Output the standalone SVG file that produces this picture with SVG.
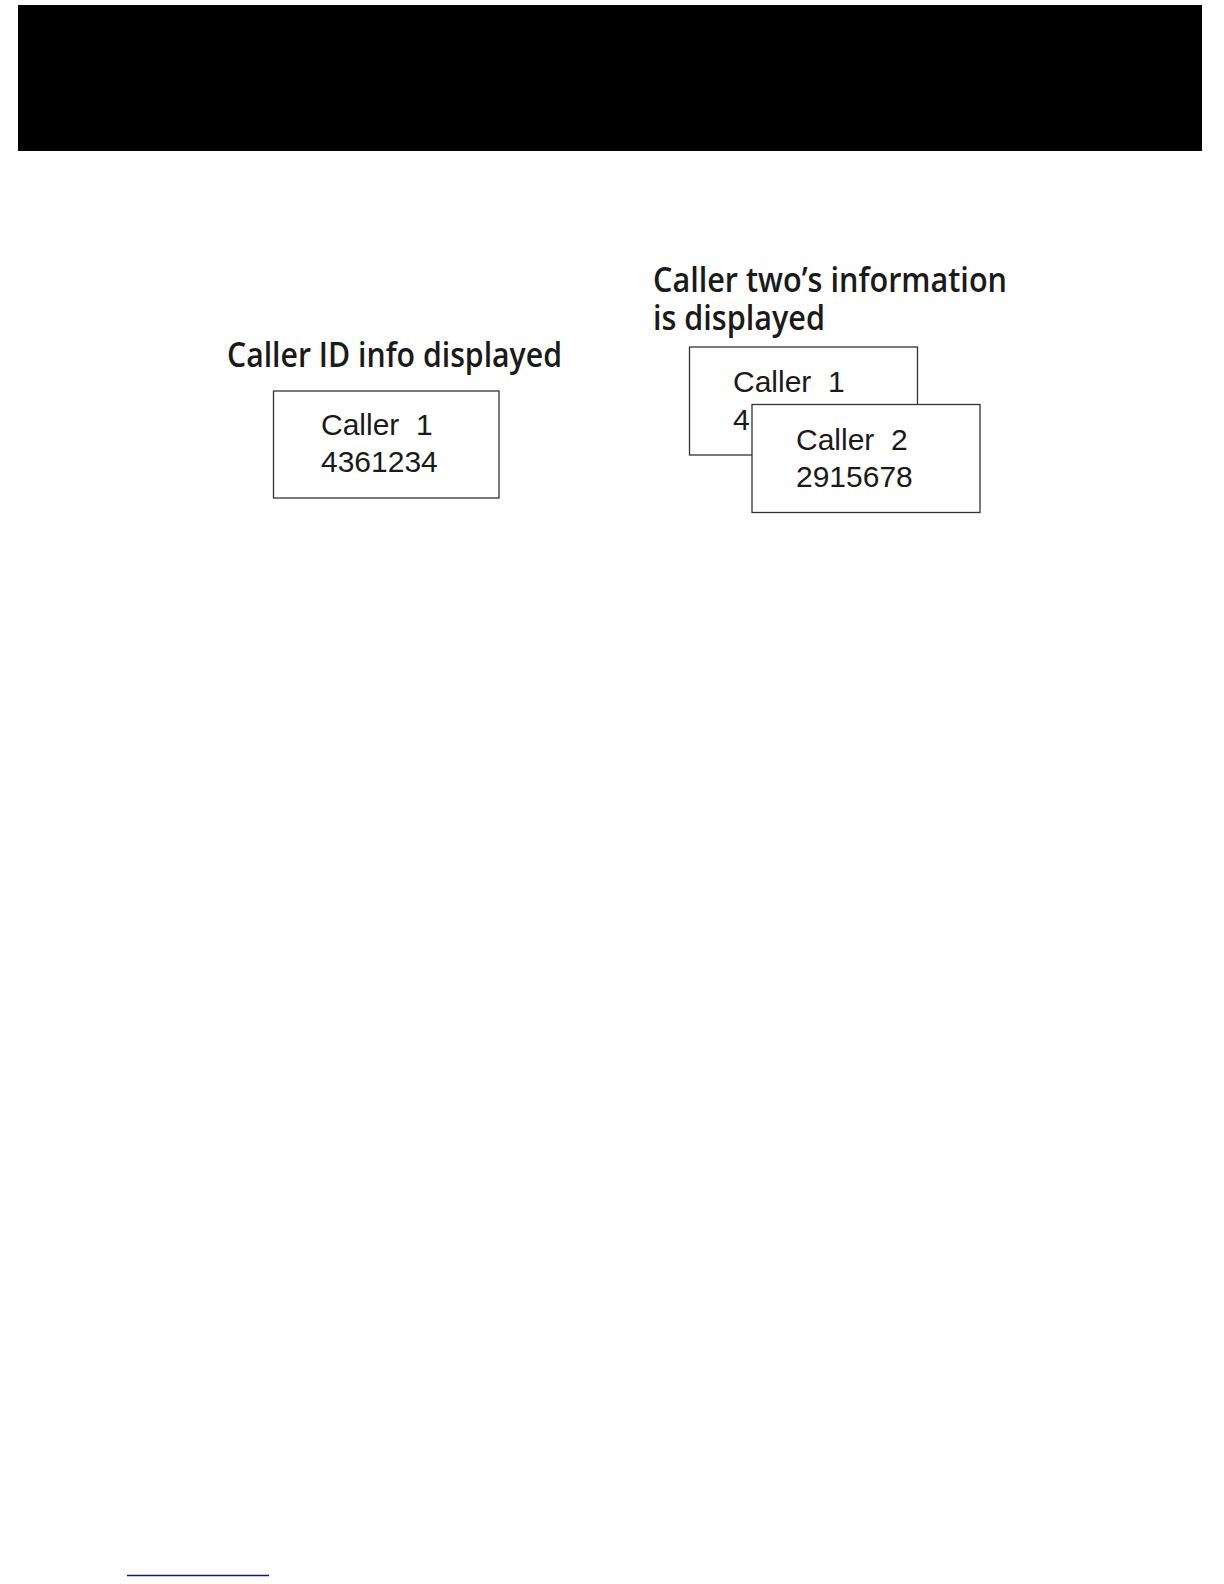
<svg xmlns="http://www.w3.org/2000/svg" width="1224" height="1584" viewBox="0 0 1224 1584">
<style>
.title{font-family:"Open Sans","Noto Sans","Liberation Sans",sans-serif;font-weight:600;font-size:33.5px;fill:#1a1a1a}
.box{fill:#fff;stroke:#333;stroke-width:1.3}
.lcd{font-family:"Liberation Sans",Arial,sans-serif;font-size:30px;fill:#1a1a1a;white-space:pre}
</style>
<rect x="18" y="5" width="1184" height="146" fill="#000"/>
<text class="title" x="227" y="367" textLength="335" lengthAdjust="spacingAndGlyphs">Caller ID info displayed</text>
<text class="title" x="653" y="292" textLength="354" lengthAdjust="spacingAndGlyphs">Caller two’s information</text>
<text class="title" x="653" y="330" textLength="172" lengthAdjust="spacingAndGlyphs">is displayed</text>
<g id="display1">
<rect class="box" x="273.5" y="391" width="225.5" height="107"/>
<text class="lcd" x="321" y="435" xml:space="preserve">Caller  1</text>
<text class="lcd" x="321" y="472">4361234</text>
</g>
<g id="display-caller1">
<rect class="box" x="689.5" y="347" width="228" height="108"/>
<text class="lcd" x="733" y="391.5" xml:space="preserve">Caller  1</text>
<text class="lcd" x="733" y="429.5">4</text>
</g>
<g id="display-caller2">
<rect class="box" x="752" y="404.5" width="228" height="108"/>
<text class="lcd" x="796" y="450" xml:space="preserve">Caller  2</text>
<text class="lcd" x="796" y="487">2915678</text>
</g>
<g id="connectors"/>
<line x1="127" y1="1575.5" x2="269" y2="1575.5" stroke="#14147a" stroke-width="1.3"/>
</svg>
